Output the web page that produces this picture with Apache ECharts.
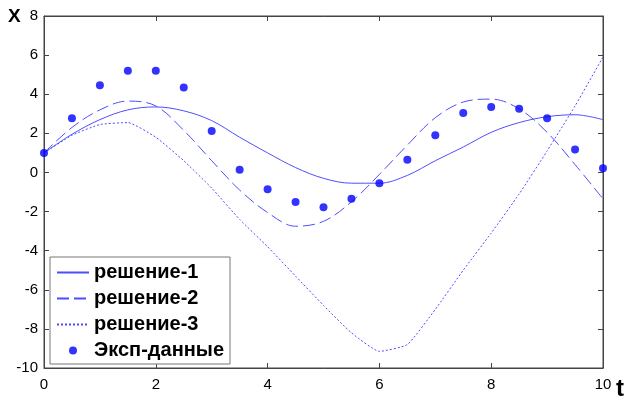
<!DOCTYPE html>
<html>
<head>
<meta charset="utf-8">
<script src="https://cdn.jsdelivr.net/npm/echarts@6/dist/echarts.min.js"></script>
<style>
  html, body { margin: 0; padding: 0; background: #fff; }
  #container_1 { width: 627px; height: 403px; }
</style>
</head>
<body>
<div id="container_1"></div>
<script>
// время t, шаг 0.5
var tValues = [0, 0.5, 1, 1.5, 2, 2.5, 3, 3.5, 4, 4.5, 5, 5.5, 6, 6.5, 7, 7.5, 8, 8.5, 9, 9.5, 10];

var sol1 = [1, 1.95, 2.7, 3.2, 3.35, 3.15, 2.65, 1.8, 1.0, 0.25, -0.3, -0.55, -0.55, -0.15, 0.6, 1.3, 2.05, 2.55, 2.85, 2.95, 2.7];
var sol2 = [1, 2.3, 3.2, 3.65, 3.4, 2.15, 0.6, -0.9, -2.05, -2.75, -2.5, -1.5, -0.1, 1.4, 2.8, 3.6, 3.75, 3.25, 2.05, 0.4, -1.35];
var sol3 = [1, 1.9, 2.45, 2.55, 1.8, 0.6, -0.8, -2.4, -3.8, -5.3, -6.8, -8.2, -9.15, -8.8, -7.0, -5.0, -3.1, -1.1, 1.1, 3.4, 5.9];
var expData = [1, 2.77, 4.46, 5.2, 5.2, 4.34, 2.12, 0.14, -0.86, -1.51, -1.78, -1.35, -0.55, 0.65, 1.9, 3.04, 3.35, 3.26, 2.77, 1.17, 0.21];

var seriesNames = ['решение-1', 'решение-2', 'решение-3', 'Эксп-данные'];

function pairs(ys) {
  return tValues.map(function (t, i) { return [t, ys[i]]; });
}

var chartDom_1 = document.getElementById('container_1');
var myChart = echarts.init(chartDom_1);

var lineColor = '#4d4dff';
var fontName = 'Liberation Sans, Arial, sans-serif';
// у линий в легенде только отрезок, без кружка
var noDot = { color: 'rgba(0,0,0,0)', borderWidth: 0 };

var option = {
  animation: false,
  grid: {
    left: 44, right: 24, top: 16, bottom: 35,
    show: true, borderColor: '#444', borderWidth: 1
  },
  xAxis: [{
    type: 'value', min: 0, max: 10, interval: 2,
    axisLine: { onZero: false, lineStyle: { color: '#444' } },
    axisTick: { inside: true, length: 5, lineStyle: { color: '#444' } },
    axisLabel: { color: '#000', fontSize: 15, fontFamily: fontName, margin: 9 },
    splitLine: { show: false }
  }, {
    type: 'value', position: 'top', min: 0, max: 10, interval: 2,
    axisLine: { onZero: false, lineStyle: { color: '#444' } },
    axisTick: { inside: true, length: 5, lineStyle: { color: '#444' } },
    axisLabel: { show: false },
    splitLine: { show: false }
  }],
  yAxis: [{
    type: 'value', min: -10, max: 8, interval: 2,
    axisLine: { onZero: false, lineStyle: { color: '#444' } },
    axisTick: { inside: true, length: 5, lineStyle: { color: '#444' } },
    axisLabel: { color: '#000', fontSize: 15, fontFamily: fontName, margin: 6 },
    splitLine: { show: false }
  }, {
    type: 'value', position: 'right', min: -10, max: 8, interval: 2,
    axisLine: { onZero: false, lineStyle: { color: '#444' } },
    axisTick: { inside: true, length: 5, lineStyle: { color: '#444' } },
    axisLabel: { show: false },
    splitLine: { show: false }
  }],
  legend: {
    orient: 'vertical',
    left: 50, top: 257,
    padding: [5, 6, 3, 6],
    itemWidth: 32, itemHeight: 8, itemGap: 5,
    backgroundColor: '#fff',
    borderColor: '#777', borderWidth: 1,
    textStyle: { color: '#000', fontSize: 20, lineHeight: 21, fontWeight: 'bold', fontFamily: fontName },
    data: [
      { name: seriesNames[0], itemStyle: noDot },
      { name: seriesNames[1], itemStyle: noDot },
      { name: seriesNames[2], itemStyle: noDot },
      { name: seriesNames[3], icon: 'circle' }
    ]
  },
  graphic: [
    { type: 'text', left: 8, top: 7, style: { text: 'X', fontSize: 19, fontWeight: 'bold', fontFamily: fontName, fill: '#000' } },
    { type: 'text', left: 616, top: 377, style: { text: 't', fontSize: 24, fontWeight: 'bold', fontFamily: fontName, fill: '#000' } }
  ],
  series: [{
    name: seriesNames[0], type: 'line', smooth: 0.35, symbol: 'circle', showSymbol: false,
    data: pairs(sol1),
    lineStyle: { color: lineColor, width: 1, type: 'solid' },
    itemStyle: { color: lineColor }
  }, {
    name: seriesNames[1], type: 'line', smooth: 0.35, symbol: 'circle', showSymbol: false,
    data: pairs(sol2),
    lineStyle: { color: lineColor, width: 1, type: [12, 5] },
    itemStyle: { color: lineColor }
  }, {
    name: seriesNames[2], type: 'line', smooth: 0.15, symbol: 'circle', showSymbol: false,
    data: pairs(sol3),
    lineStyle: { color: lineColor, width: 1, type: [2, 2] },
    itemStyle: { color: lineColor }
  }, {
    name: seriesNames[3], type: 'scatter', symbol: 'circle', symbolSize: 8,
    data: pairs(expData),
    itemStyle: { color: '#0000ff' },
    z: 5
  }]
};

myChart.setOption(option);
</script>
</body>
</html>
